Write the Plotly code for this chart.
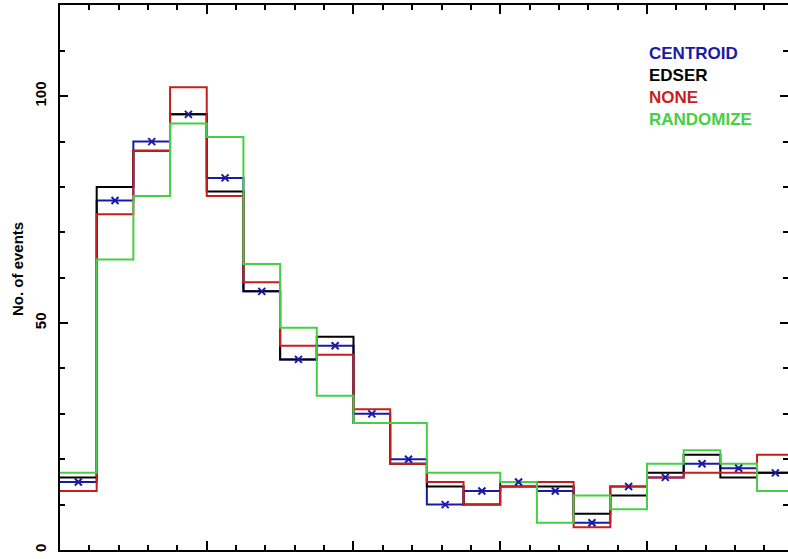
import plotly.graph_objects as go

# Bin edges (0.25 wide) and per-bin counts
bin_edges = [0.0, 0.25, 0.5, 0.75, 1.0, 1.25, 1.5, 1.75, 2.0, 2.25, 2.5,
             2.75, 3.0, 3.25, 3.5, 3.75, 4.0, 4.25, 4.5, 4.75, 5.0]
centroid = [15, 77, 90, 96, 82, 57, 42, 45, 30, 20, 10, 13, 15, 13, 6, 14, 16, 19, 18, 17]
edser = [16, 80, 88, 96, 79, 57, 42, 47, 28, 19, 14, 10, 14, 14, 8, 12, 17, 21, 16, 17]
none_ = [13, 74, 88, 102, 78, 59, 45, 43, 31, 19, 15, 10, 14, 15, 5, 14, 16, 17, 17, 21]
randomize = [17, 64, 78, 94, 91, 63, 49, 34, 28, 28, 17, 17, 15, 6, 12, 9, 19, 22, 19, 13]

x_ticks = [0, 1, 2, 3, 4]
y_ticks = [0, 50, 100]

BLUE = "#1a1aa8"
BLACK = "#000000"
RED = "#c81e1e"
GREEN = "#46cf46"

centers = [(bin_edges[i] + bin_edges[i + 1]) / 2 for i in range(len(bin_edges) - 1)]

fig = go.Figure()

def step(vals, color, name):
    fig.add_trace(go.Scatter(
        x=bin_edges, y=vals + [vals[-1]], mode="lines", line_shape="hv",
        line=dict(color=color, width=2), name=name, showlegend=False,
        hoverinfo="skip"))

step(centroid, BLUE, "CENTROID")
step(edser, BLACK, "EDSER")
step(none_, RED, "NONE")
step(randomize, GREEN, "RANDOMIZE")

fig.add_trace(go.Scatter(
    x=centers, y=centroid, mode="markers",
    marker=dict(symbol="x-thin", size=7, line=dict(color=BLUE, width=2)),
    showlegend=False))

font_family = "Liberation Sans, Arial, sans-serif"

fig.update_layout(
    width=788, height=559,
    margin=dict(l=60, r=0, t=5, b=9),
    paper_bgcolor="white", plot_bgcolor="white",
    font=dict(family=font_family, color="black", weight="bold"),
    showlegend=False,
    xaxis=dict(
        range=[0, 4.961], tickvals=x_ticks, ticktext=[str(v) for v in x_ticks],
        ticks="inside", ticklen=9, tickwidth=2, tickcolor="black",
        showline=True, linewidth=2, linecolor="black", mirror="allticks",
        showgrid=False, zeroline=False, automargin=False,
        tickfont=dict(size=15, color="black", weight="bold"),
        ticklabelstandoff=2,
        minor=dict(dtick=0.2, tick0=0, ticks="inside", ticklen=5, tickwidth=1.5,
                   tickcolor="black", showgrid=False),
    ),
    yaxis=dict(
        range=[0, 120.1], tickvals=y_ticks, ticktext=[str(v) for v in y_ticks],
        ticks="inside", ticklen=8, tickwidth=2, tickcolor="black",
        showline=True, linewidth=2, linecolor="black", mirror="allticks",
        showgrid=False, zeroline=False, tickangle=-90, automargin=False,
        tickfont=dict(size=15, color="black", weight="bold"),
        ticklabelstandoff=6,
        minor=dict(dtick=10, tick0=0, ticks="inside", ticklen=5, tickwidth=1.5,
                   tickcolor="black", showgrid=False),
    ),
)

fig.add_annotation(
    text="No. of events", xref="paper", yref="paper",
    x=(17 - 60) / 728, y=(550 - 269) / 545, textangle=-90,
    showarrow=False, xanchor="center", yanchor="middle",
    font=dict(size=15, color="black", family=font_family, weight="bold"))

legend_items = [("CENTROID", BLUE, 53), ("EDSER", BLACK, 76),
                ("NONE", RED, 97), ("RANDOMIZE", GREEN, 119)]
for label, color, ypix in legend_items:
    fig.add_annotation(
        text=label, xref="paper", yref="paper",
        x=(647 - 60) / 728, y=(550 - ypix) / 545,
        showarrow=False, xanchor="left", yanchor="middle",
        font=dict(size=17, color=color, family=font_family, weight="bold"))

fig.write_html("out.html",
               config={"displayModeBar": False},
               post_script="document.body.style.margin='0';document.body.style.overflow='hidden';")
